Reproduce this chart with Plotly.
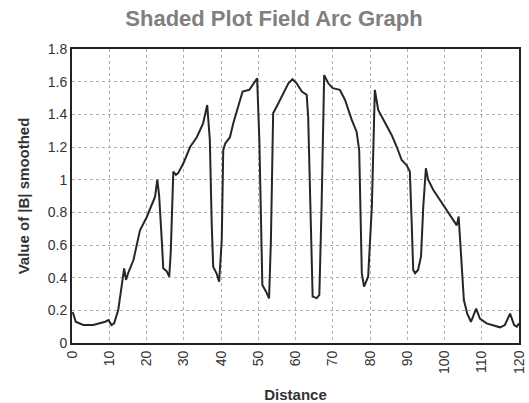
import plotly.graph_objects as go

distance = [0.2, 1.0, 3.0, 5.7, 8.9, 9.8, 10.6, 11.3, 12.4, 13.3, 14.0, 14.5, 15.1, 16.5,
            18.25, 20.05, 21.4, 22.3, 22.9, 23.4, 24.1, 24.5, 25.4, 26.1, 26.5, 27.2, 27.9,
            28.5, 29.9, 31.7, 33.5, 35.2, 36.3, 37.0, 37.5, 37.9, 38.8, 39.5, 40.2, 40.6,
            41.1, 42.4, 43.3, 44.6, 45.8, 47.6, 48.7, 49.7, 50.3, 50.7, 51.1, 52.1, 52.9,
            53.4, 54.0, 55.4, 56.7, 58.1, 59.2, 60.3, 61.7, 63.0, 63.4, 63.9, 64.3, 64.6,
            65.7, 66.4, 67.0, 67.7, 68.8, 70.0, 71.9, 73.3, 75.1, 76.4, 77.1, 77.5, 77.8,
            78.4, 79.5, 80.5, 81.3, 82.2, 83.6, 85.8, 87.2, 88.5, 89.8, 90.7, 91.2, 91.6,
            92.1, 92.9, 93.7, 94.3, 95.0, 95.6, 97.0, 98.8, 100.6, 102.4, 103.3, 103.8,
            104.2, 104.6, 105.2, 106.1, 107.1, 108.5, 109.5, 111.3, 113.1, 114.9, 116.2,
            117.6, 118.7, 119.4, 120.0]
b_smoothed = [0.19, 0.13, 0.11, 0.11, 0.13, 0.14, 0.11, 0.12, 0.20, 0.345, 0.457, 0.386, 0.43,
              0.508, 0.69, 0.77, 0.845, 0.896, 1.0, 0.9, 0.63, 0.457, 0.44, 0.406, 0.55, 1.05,
              1.03, 1.04, 1.10, 1.20, 1.26, 1.345, 1.457, 1.243, 0.733, 0.467, 0.427, 0.375,
              0.63, 1.18, 1.22, 1.26, 1.345, 1.447, 1.54, 1.55, 1.59, 1.62, 1.24, 0.73, 0.355,
              0.314, 0.273, 0.63, 1.406, 1.468, 1.53, 1.59, 1.615, 1.59, 1.54, 1.52, 1.386,
              0.937, 0.53, 0.284, 0.275, 0.294, 0.835, 1.64, 1.59, 1.56, 1.55, 1.488, 1.366,
              1.294, 1.18, 0.63, 0.427, 0.345, 0.406, 0.835, 1.55, 1.427, 1.366, 1.274, 1.20,
              1.12, 1.09, 1.05, 0.73, 0.447, 0.427, 0.447, 0.53, 0.835, 1.07, 1.0, 0.937,
              0.876, 0.814, 0.753, 0.72, 0.774, 0.63, 0.427, 0.263, 0.18, 0.13, 0.21, 0.15,
              0.12, 0.11, 0.096, 0.11, 0.18, 0.11, 0.10, 0.12]

x_ticks = [0, 10, 20, 30, 40, 50, 60, 70, 80, 90, 100, 110, 120]
y_ticks = [0, 0.2, 0.4, 0.6, 0.8, 1, 1.2, 1.4, 1.6, 1.8]
y_tick_text = ["0", "0.2", "0.4", "0.6", "0.8", "1", "1.2", "1.4", "1.6", "1.8"]

fig = go.Figure()
fig.add_trace(go.Scatter(x=distance, y=b_smoothed, mode="lines",
                         line=dict(color="#262626", width=2), showlegend=False))

fig.update_layout(
    width=529, height=403,
    margin=dict(l=72, r=10, t=49, b=60),
    paper_bgcolor="white", plot_bgcolor="white",
    font=dict(family="Liberation Sans, Arial, sans-serif", size=14, color="#333333"),
    title=dict(text="<b>Shaded Plot Field Arc Graph</b>", x=0.518, xanchor="center",
               y=1 - 18 / 403, yanchor="middle", yref="container",
               font=dict(size=22, color="#808080")),
    xaxis=dict(range=[0, 120], tickvals=x_ticks, ticktext=[str(v) for v in x_ticks],
               tickangle=-90, showgrid=True, gridcolor="#b0b0b0", griddash="dot",
               gridwidth=1, showline=True, linecolor="#222222", linewidth=2, mirror=True,
               zeroline=False, ticks="", automargin=False,
               title=dict(text="<b>Distance</b>", font=dict(size=15, color="#333333"),
                          standoff=24)),
    yaxis=dict(range=[0, 1.8], tickvals=y_ticks, ticktext=y_tick_text,
               showgrid=True, gridcolor="#b0b0b0", griddash="dot", gridwidth=1,
               showline=True, linecolor="#222222", linewidth=2, mirror=True,
               zeroline=False, ticks="", automargin=False,
               title=dict(text="<b>Value of |B| smoothed</b>",
                          font=dict(size=15, color="#333333"), standoff=14)),
)

fig.write_html("out.html")
